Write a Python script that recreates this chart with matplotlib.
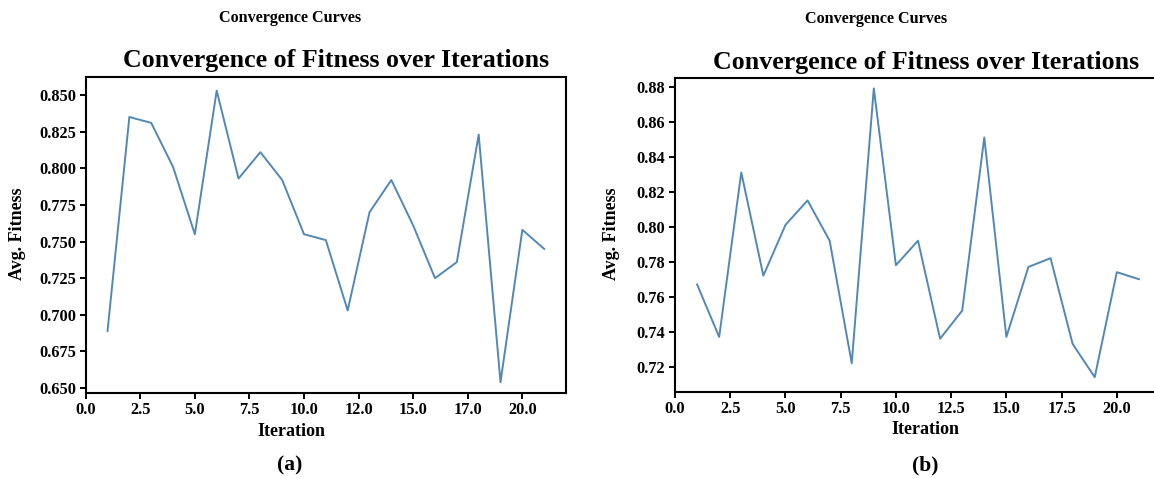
import numpy as np
import matplotlib
matplotlib.use("Agg")
import matplotlib.pyplot as plt

plt.rcParams['font.family'] = ['Liberation Serif', 'DejaVu Serif']
plt.rcParams['font.weight'] = 'bold'

# Average fitness per iteration for the two runs
iterations = list(range(1, 22))
fitness_a = [0.689, 0.835, 0.831, 0.801, 0.755, 0.853, 0.793, 0.811, 0.792, 0.755,
             0.751, 0.703, 0.770, 0.792, 0.761, 0.725, 0.736, 0.823, 0.654, 0.758, 0.745]
fitness_b = [0.767, 0.737, 0.831, 0.772, 0.801, 0.815, 0.792, 0.722, 0.879, 0.778,
             0.792, 0.736, 0.752, 0.851, 0.737, 0.777, 0.782, 0.733, 0.714, 0.774, 0.770]

xticks = [0, 2.5, 5, 7.5, 10, 12.5, 15, 17.5, 20]
xticklabels_a = ['0.0', '2.5', '5.0', '7.5', '10.0', '12.0', '15.0', '17.0', '20.0']
xticklabels_b = ['0.0', '2.5', '5.0', '7.5', '10.0', '12.5', '15.0', '17.5', '20.0']
yticks_a = [0.650, 0.675, 0.700, 0.725, 0.750, 0.775, 0.800, 0.825, 0.850]
yticks_b = [0.72, 0.74, 0.76, 0.78, 0.80, 0.82, 0.84, 0.86, 0.88]

W, H = 1154, 478
fig = plt.figure(figsize=(W / 100, H / 100), dpi=100)

line_color = '#5288b6'


def px(x, y):
    return x / W, 1 - y / H


def style(ax):
    for s in ax.spines.values():
        s.set_linewidth(1.5)
        s.set_color('black')
    ax.tick_params(axis='both', direction='out', length=4, width=1.4,
                   labelsize=11.8, pad=3)
    for lab in ax.get_xticklabels() + ax.get_yticklabels():
        lab.set_fontweight('bold')


ax1 = fig.add_axes([85.7 / W, 1 - 392.5 / H, 480.3 / W, 315.8 / H])
ax1.plot(iterations, fitness_a, color=line_color, lw=1.4)
ax1.set_xlim(0, 22)
ax1.set_ylim(0.647, 0.8625)
ax1.set_xticks(xticks)
ax1.set_xticklabels(xticklabels_a)
ax1.set_yticks(yticks_a)
ax1.set_yticklabels([f'{v:.3f}' for v in yticks_a])
style(ax1)

ax2 = fig.add_axes([675 / W, 1 - 391.7 / H, 486 / W, 313.4 / H])
ax2.plot(iterations, fitness_b, color=line_color, lw=1.4)
ax2.set_xlim(0, 22)
ax2.set_ylim(0.7057, 0.8848)
ax2.set_xticks(xticks)
ax2.set_xticklabels(xticklabels_b)
ax2.set_yticks(yticks_b)
ax2.set_yticklabels([f'{v:.2f}' for v in yticks_b])
style(ax2)

# Panel headings and labels
for cx, sup_y, tx, ty, lx, ly, yx, yy, px_, py_, tag in [
    (290, 18, 336, 61, 291, 431, 18, 234, 290, 465, '(a)'),
    (876, 19, 926, 62, 925, 430, 612, 234, 925, 465, '(b)'),
]:
    fig.text(*px(cx, sup_y), 'Convergence Curves', ha='center', va='center',
             fontsize=11.6, fontweight='bold')
    fig.text(*px(tx, ty), 'Convergence of Fitness over Iterations', ha='center',
             va='center', fontsize=18.6, fontweight='bold')
    fig.text(*px(lx, ly), 'Iteration', ha='center', va='center',
             fontsize=13, fontweight='bold')
    fig.text(*px(yx, yy), 'Avg. Fitness', ha='center', va='center',
             rotation=90, fontsize=13, fontweight='bold')
    fig.text(*px(px_, py_), tag, ha='center', va='center',
             fontsize=15.5, fontweight='bold')

fig.savefig('out.png', dpi=100)
